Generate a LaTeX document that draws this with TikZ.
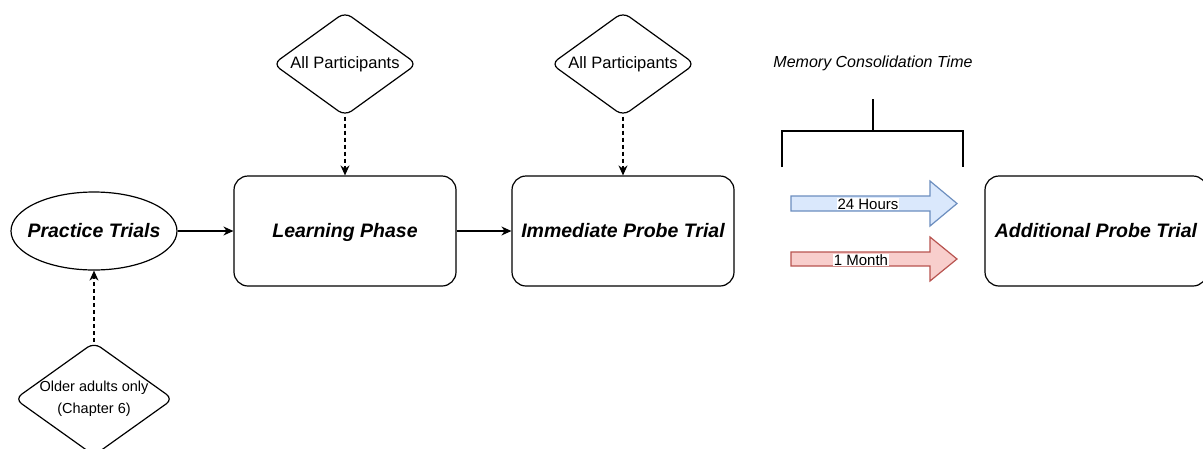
\documentclass[tikz,border=0pt]{standalone}
\usepackage{fontspec}
\setmainfont{Liberation Sans}
\usetikzlibrary{arrows, arrows.meta}
\usetikzlibrary{shapes.geometric}
\definecolor{hoursfill}{HTML}{DAE8FC}
\definecolor{hoursline}{HTML}{6C8EBF}
\definecolor{monthfill}{HTML}{F8CECC}
\definecolor{monthline}{HTML}{B85450}

\begin{document}
\begin{tikzpicture}[x=1pt, y=-1pt,
    phase/.style={rectangle, draw, rounded corners=14pt, line width=1.2pt, minimum width=222pt, minimum height=110pt, text height=15pt, text depth=3pt, font=\fontsize{19.5}{23}\selectfont\bfseries\itshape},
    group/.style={diamond, draw, rounded corners=8pt, line width=1.2pt, inner sep=0pt, aspect=1.4, minimum width=144pt, minimum height=104pt, font=\fontsize{16.5}{19}\selectfont},
    flow/.style={-{Stealth[length=10pt, width=9pt]}, line width=1.2pt},
    optional/.style={flow, dash pattern=on 4pt off 3pt},
    period/.style={fill=white, inner sep=0.5pt, font=\fontsize{15}{18}\selectfont}]
    \useasboundingbox (0,0) rectangle (1203,448);

    \node[ellipse, draw, line width=1.2pt, inner sep=0pt, minimum width=166pt, minimum height=78pt, text height=15pt, text depth=3pt, font=\fontsize{19.5}{23}\selectfont\bfseries\itshape] (practice) at (94,231) {\makebox[0pt]{Practice Trials}};
    \node[phase] (learn) at (345,231) {Learning Phase};
    \node[phase] (immediate) at (623,231) {Immediate Probe Trial};
    \node[phase] (additional) at (1096,231) {Additional Probe Trial};

    \node[group] (allA) at (345,64) {All Participants};
    \node[group] (allB) at (623,64) {All Participants};
    \node[group, minimum width=150pt, minimum height=112pt, align=center, font=\fontsize{14.5}{22}\selectfont] (older) at (94,399) {Older adults only\\(Chapter 6)};

    \draw[flow] (practice) -- (learn);
    \draw[flow] (learn) -- (immediate);
    \draw[optional] (allA) -- (learn);
    \draw[optional] (allB) -- (immediate);
    \draw[optional] (older) -- (practice);

    \node[font=\fontsize{16}{19}\selectfont\itshape] (memory) at (873,63) {Memory Consolidation Time};
    \draw[line width=2.2pt] (782,167) -- (782,131) -- (963,131) -- (963,167);
    \draw[line width=2.2pt] (873,99) -- (873,131);

    \draw[fill=hoursfill, draw=hoursline, line width=1.2pt] (791,196) -- (930,196) -- (930,181) -- (957,203.5) -- (930,226) -- (930,211) -- (791,211) -- cycle;
    \node[period] (hours) at (868,204) {24 Hours};
    \draw[fill=monthfill, draw=monthline, line width=1.2pt] (791,252) -- (930,252) -- (930,237) -- (957,259) -- (930,281) -- (930,266) -- (791,266) -- cycle;
    \node[period] (month) at (861,260) {1 Month};
  \end{tikzpicture}
\end{document}
